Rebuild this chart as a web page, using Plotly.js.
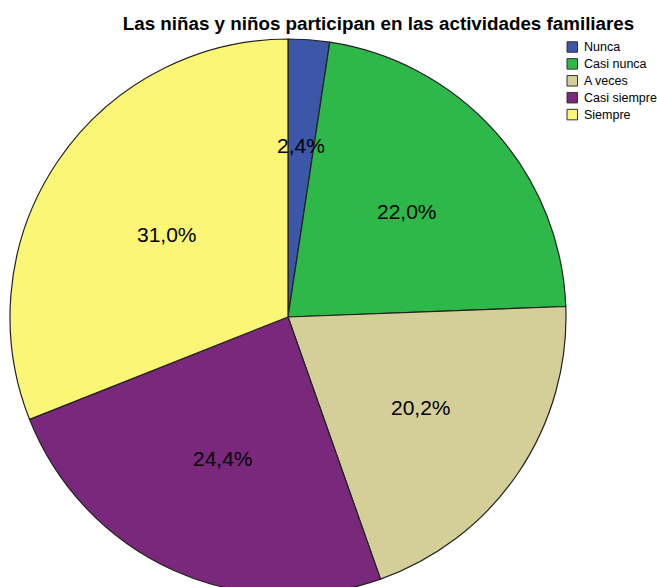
<!DOCTYPE html>
<html>
<head>
<meta charset="utf-8">
<script src="https://cdn.plot.ly/plotly-3.0.1.min.js"></script>
<style>
html, body { margin: 0; padding: 0; overflow: hidden; background: #fff; }
#chart { width: 657px; height: 600px; }
</style>
</head>
<body>
<div id="chart"></div>
<script>
const categories = ["Nunca", "Casi nunca", "A veces", "Casi siempre", "Siempre"];
const percents = [2.4, 22.0, 20.2, 24.4, 31.0];
const colors = ["#3C56A8", "#2EB84A", "#D4CE98", "#7A287B", "#FBF676"];
const chartTitle = "Las niñas y niños participan en las actividades familiares";

const W = 657, H = 600;
const FONT = "Liberation Sans, Arial, sans-serif";
// pie placement (pixels)
const pieLeft = 10, pieTop = 39, pieSize = 556;
const dom = { x: [pieLeft / W, (pieLeft + pieSize) / W], y: [1 - (pieTop + pieSize) / H, 1 - pieTop / H] };

const trace = {
  type: "pie",
  labels: categories,
  values: percents,
  sort: false,
  direction: "clockwise",
  rotation: 0,
  marker: { colors: colors, line: { color: "#222222", width: 1.2 } },
  textinfo: "none",
  hoverinfo: "label+percent",
  showlegend: false,
  domain: dom
};

// percentage labels placed at (scaled) slice centroids computed from the values
const total = percents.reduce((a, b) => a + b, 0);
const cx = (dom.x[0] + dom.x[1]) / 2, cy = (dom.y[0] + dom.y[1]) / 2;
const Rx = (dom.x[1] - dom.x[0]) / 2, Ry = (dom.y[1] - dom.y[0]) / 2;
const annotations = [];
let cum = 0;
percents.forEach((v) => {
  const half = (v / total) * Math.PI; // half-angle of slice
  const mid = ((cum + v / 2) / total) * 2 * Math.PI;
  cum += v;
  const rc = 0.93 * (2 * Math.sin(half)) / (3 * half);
  annotations.push({
    xref: "paper", yref: "paper",
    x: cx + rc * Rx * Math.sin(mid),
    y: cy + rc * Ry * Math.cos(mid),
    xanchor: "center", yanchor: "middle",
    text: v.toFixed(1).replace(".", ",") + "%",
    showarrow: false,
    font: { family: FONT, size: 21, color: "#000" }
  });
});

// legend built from categories / colors
const legX = 567 / W, legTop = 47, legStep = 16.9, sw = 10.5;
const shapes = [];
categories.forEach((c, i) => {
  const yc = legTop + i * legStep;
  shapes.push({
    type: "rect", xref: "paper", yref: "paper",
    x0: legX, x1: legX + sw / W,
    y0: 1 - (yc + sw / 2) / H, y1: 1 - (yc - sw / 2) / H,
    fillcolor: colors[i], line: { color: "#333333", width: 1 }
  });
  annotations.push({
    xref: "paper", yref: "paper",
    x: 582 / W, y: 1 - yc / H,
    xanchor: "left", yanchor: "middle",
    text: c, showarrow: false,
    font: { family: FONT, size: 12.5, color: "#000" }
  });
});

const layout = {
  width: W,
  height: H,
  margin: { l: 0, r: 0, t: 0, b: 0 },
  paper_bgcolor: "#ffffff",
  font: { family: FONT, color: "#000" },
  title: {
    text: "<b>" + chartTitle + "</b>",
    font: { family: FONT, size: 18.8, color: "#000" },
    x: 378.5 / W, xanchor: "center",
    yref: "container", y: 1 - 23.5 / H, yanchor: "middle"
  },
  showlegend: false,
  annotations: annotations,
  shapes: shapes
};

Plotly.newPlot("chart", [trace], layout, { displayModeBar: false, staticPlot: true });
</script>
</body>
</html>
